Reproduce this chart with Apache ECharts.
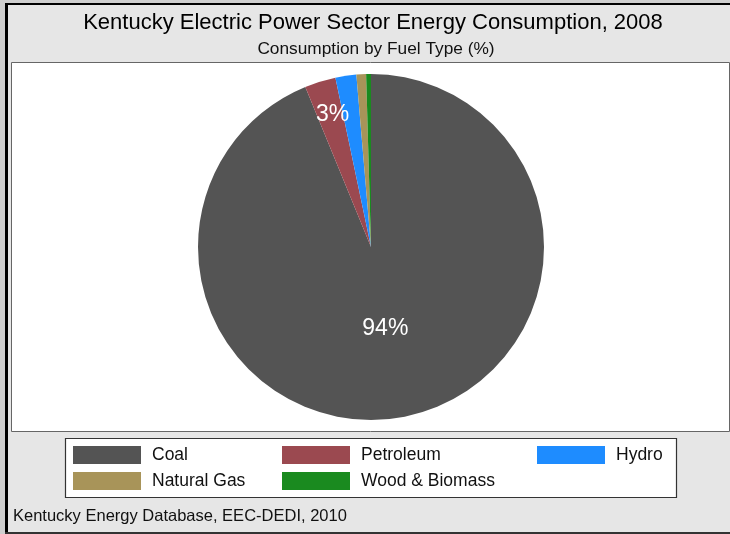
<!DOCTYPE html>
<html>
<head>
<meta charset="utf-8">
<script src="https://cdn.jsdelivr.net/npm/echarts@6/dist/echarts.min.js"></script>
<style>
  html, body { margin: 0; padding: 0; background: #e6e6e6; }
  #chart { width: 730px; height: 534px; }
</style>
</head>
<body>
<div id="chart"></div>
<script>
// ---- data ----
var categories = ['Coal', 'Petroleum', 'Hydro', 'Natural Gas', 'Wood & Biomass'];
var shares = [93.8, 2.9, 1.95, 0.9, 0.45];
var shownLabels = ['94%', '3%', '', '', ''];
var colors = ['#545454', '#9b4950', '#1e8cff', '#a89459', '#1a8a1f'];
var legendCol1 = ['Coal', 'Natural Gas'];
var legendCol2 = ['Petroleum', 'Wood & Biomass'];
var legendCol3 = ['Hydro'];
var titleText = 'Kentucky Electric Power Sector Energy Consumption, 2008';
var subtitleText = 'Consumption by Fuel Type (%)';
var footnoteText = 'Kentucky Energy Database, EEC-DEDI, 2010';

var FONT = 'Liberation Sans, Arial, sans-serif';

var pieData = categories.map(function (c, i) {
  return {
    name: c,
    value: shares[i],
    itemStyle: { color: colors[i] },
    label: { show: shownLabels[i] !== '' }
  };
});

function makeLegend(data, left) {
  return {
    data: data,
    orient: 'vertical',
    left: left,
    top: 441,
    icon: 'rect',
    itemWidth: 68,
    itemHeight: 18,
    itemGap: 8,
    selectedMode: false,
    textStyle: { fontFamily: FONT, fontSize: 17.5, color: '#111', padding: [0, 0, 0, 6] }
  };
}

var chart = echarts.init(document.getElementById('chart'), null, { renderer: 'canvas' });
chart.setOption({
  backgroundColor: '#e6e6e6',
  animation: false,
  title: [
    { text: titleText, left: 368, textAlign: 'center', top: 7,
      textStyle: { fontFamily: FONT, fontSize: 22, fontWeight: 'normal', color: '#000' } },
    { text: subtitleText, left: 371, textAlign: 'center', top: 36,
      textStyle: { fontFamily: FONT, fontSize: 17.3, fontWeight: 'normal', color: '#111' } },
    { text: footnoteText, left: 8, top: 503,
      textStyle: { fontFamily: FONT, fontSize: 16.5, fontWeight: 'normal', color: '#111' } }
  ],
  graphic: [
    { type: 'rect', shape: { x: 0, y: 0, width: 5, height: 534 }, style: { fill: '#cfcfcf' }, z: 0 },
    { type: 'rect', shape: { x: 5, y: 3, width: 3, height: 531 }, style: { fill: '#000' }, z: 0 },
    { type: 'rect', shape: { x: 5, y: 0, width: 725, height: 3 }, style: { fill: '#cfcfcf' }, z: 0 },
    { type: 'rect', shape: { x: 5, y: 3, width: 725, height: 2 }, style: { fill: '#000' }, z: 0 },
    { type: 'rect', shape: { x: 5, y: 532, width: 725, height: 2 }, style: { fill: '#333' }, z: 0 },
    { type: 'rect', shape: { x: 11.5, y: 62.5, width: 718, height: 369 },
      style: { fill: '#fff', stroke: '#666', lineWidth: 1 }, z: 0 },
    { type: 'rect', shape: { x: 65.5, y: 438.5, width: 611, height: 59 },
      style: { fill: '#fff', stroke: '#333', lineWidth: 1.2 }, z: 0 }
  ],
  legend: [
    makeLegend(legendCol1, 68),
    makeLegend(legendCol2, 277),
    makeLegend(legendCol3, 532)
  ],
  series: [{
    type: 'pie',
    center: [371, 247],
    radius: 173,
    startAngle: 90,
    clockwise: true,
    avoidLabelOverlap: false,
    minAngle: 0,
    label: {
      position: 'inside',
      color: '#fff',
      fontFamily: FONT,
      fontSize: 23,
      formatter: function (p) { return shownLabels[p.dataIndex]; }
    },
    labelLine: { show: false },
    labelLayout: function (p) {
      if (p.dataIndex === 1) { return { dx: -12, dy: -47 }; }
      if (p.dataIndex === 0) { return { dx: -3, dy: -6 }; }
      return {};
    },
    emphasis: { disabled: true },
    itemStyle: { borderWidth: 0 },
    data: pieData
  }]
});
</script>
</body>
</html>
